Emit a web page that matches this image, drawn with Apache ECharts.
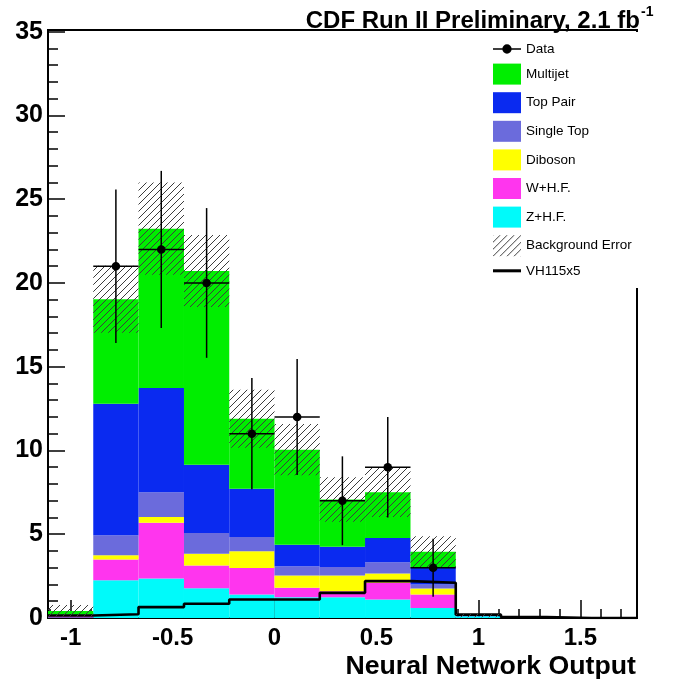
<!DOCTYPE html>
<html>
<head>
<meta charset="utf-8">
<script src="https://cdn.jsdelivr.net/npm/echarts@6/dist/echarts.min.js"></script>
<style>
  html, body { margin: 0; padding: 0; background: #fff; }
  #chart { width: 673px; height: 685px; }
</style>
</head>
<body>
<div id="chart"></div>
<script>
// Neural network output histogram: 13 bins
const binEdges = [-1.111, -0.889, -0.667, -0.444, -0.222, 0, 0.222, 0.444, 0.667, 0.889, 1.111, 1.333, 1.556, 1.778];

// Background components, listed bottom of stack first
const zhf      = [0.03, 2.25, 2.36, 1.78, 1.40, 1.24, 1.24, 1.10, 0.60, 0.10, 0, 0, 0];
const whf      = [0.15, 1.24, 3.32, 1.35, 1.59, 0.56, 0.36, 1.00, 0.80, 0, 0, 0, 0];
const diboson  = [0, 0.26, 0.35, 0.70, 0.99, 0.73, 0.93, 0.55, 0.36, 0, 0, 0, 0];
const singleTop= [0, 1.19, 1.47, 1.25, 0.86, 0.56, 0.52, 0.68, 0.24, 0, 0, 0, 0];
const topPair  = [0.02, 7.85, 6.23, 4.07, 2.88, 1.29, 1.20, 1.45, 1.03, 0.03, 0, 0, 0];
const multijet = [0.22, 6.24, 9.51, 11.57, 4.18, 5.67, 2.82, 2.72, 0.92, 0.02, 0, 0, 0];
const bkgError = [0.35, 2.00, 2.75, 2.15, 1.73, 1.53, 1.33, 1.47, 0.93, 0.10, 0, 0, 0];

// Observed data and its uncertainties
const dataCounts = [0, 21, 22, 20, 11, 12, 7, 9, 3, 0, 0, 0, 0];
const dataErrors = [0, 4.58, 4.69, 4.47, 3.32, 3.46, 2.65, 3.00, 1.73, 0, 0, 0, 0];

// Signal template VH115 scaled by 5
const vh115x5 = [0.15, 0.22, 0.65, 0.85, 1.10, 1.10, 1.50, 2.20, 2.10, 0.20, 0.05, 0, 0];

// Axis ticks
const xMajorTicks = [-1, -0.5, 0, 0.5, 1, 1.5];
const xMinorTicks = [-1.1, -1.0, -0.9, -0.8, -0.7, -0.6, -0.5, -0.4, -0.3, -0.2, -0.1, 0, 0.1, 0.2, 0.3, 0.4, 0.5, 0.6, 0.7, 0.8, 0.9, 1.0, 1.1, 1.2, 1.3, 1.4, 1.5, 1.6, 1.7];
const yMajorTicks = [0, 5, 10, 15, 20, 25, 30, 35];
const yMinorTicks = [0, 1, 2, 3, 4, 5, 6, 7, 8, 9, 10, 11, 12, 13, 14, 15, 16, 17, 18, 19, 20, 21, 22, 23, 24, 25, 26, 27, 28, 29, 30, 31, 32, 33, 34, 35];

const FONT = '"Liberation Sans", Arial, Helvetica, sans-serif';

// Diagonal hatch used for the background uncertainty band
function makeHatch() {
  const s = 7;
  const c = document.createElement('canvas');
  c.width = s; c.height = s;
  const g = c.getContext('2d');
  g.strokeStyle = '#3c3c3c';
  g.lineWidth = 1;
  g.beginPath();
  g.moveTo(0, s); g.lineTo(s, 0);
  g.moveTo(-1, 1); g.lineTo(1, -1);
  g.moveTo(s - 1, s + 1); g.lineTo(s + 1, s - 1);
  g.stroke();
  return c;
}
const hatch = { image: makeHatch(), repeat: 'repeat' };

const components = [
  { name: 'Z+H.F.',     values: zhf,       color: '#00fafa' },
  { name: 'W+H.F.',     values: whf,       color: '#ff35ee' },
  { name: 'Diboson',    values: diboson,   color: '#ffff00' },
  { name: 'Single Top', values: singleTop, color: '#6b6bdc' },
  { name: 'Top Pair',   values: topPair,   color: '#0a2af0' },
  { name: 'Multijet',   values: multijet,  color: '#00ee00' }
];

function rectItem(params, api) {
  const x0 = api.value(0), x1 = api.value(1), y0 = api.value(2), y1 = api.value(3);
  if (!(y1 - y0 > 0)) return;
  const a = api.coord([x0, y1]);
  const b = api.coord([x1, y0]);
  return {
    type: 'rect',
    shape: { x: a[0], y: a[1], width: b[0] - a[0], height: b[1] - a[1] },
    style: { fill: api.visual('color') }
  };
}

const series = [];
const base = binEdges.slice(0, -1).map(() => 0);
components.forEach((comp) => {
  const rows = comp.values.map((v, i) => {
    const row = [binEdges[i], binEdges[i + 1], base[i], base[i] + v];
    base[i] += v;
    return row;
  });
  series.push({
    name: comp.name,
    type: 'custom',
    renderItem: rectItem,
    encode: { x: [0, 1], y: [2, 3] },
    itemStyle: { color: comp.color },
    data: rows,
    z: 2,
    silent: true
  });
});
const total = base.slice();

// Signal step line
const vhPoints = vh115x5.map((v, i) => [binEdges[i], v]);
vhPoints.push([binEdges[binEdges.length - 1], vh115x5[vh115x5.length - 1]]);
series.push({
  name: 'VH115x5',
  type: 'line',
  step: 'end',
  symbol: 'none',
  data: vhPoints,
  lineStyle: { color: '#000', width: 2.6 },
  itemStyle: { color: '#000' },
  z: 3,
  silent: true
});

// Background uncertainty band
series.push({
  name: 'Background Error',
  type: 'custom',
  renderItem: function (params, api) {
    const x0 = api.value(0), x1 = api.value(1), y0 = api.value(2), y1 = api.value(3);
    if (!(y1 - y0 > 0)) return;
    const a = api.coord([x0, y1]);
    const b = api.coord([x1, Math.max(0, y0)]);
    return {
      type: 'rect',
      shape: { x: a[0], y: a[1], width: b[0] - a[0], height: b[1] - a[1] },
      style: { fill: hatch }
    };
  },
  encode: { x: [0, 1], y: [2, 3] },
  itemStyle: { color: hatch },
  data: total.map((t, i) => [binEdges[i], binEdges[i + 1], t - bkgError[i], t + bkgError[i]]),
  z: 4,
  silent: true
});

// Data points with error bars
series.push({
  name: 'Data',
  type: 'custom',
  renderItem: function (params, api) {
    const x0 = api.value(0), x1 = api.value(1), n = api.value(2), e = api.value(3);
    if (!(n > 0)) return;
    const xc = (x0 + x1) / 2;
    const c = api.coord([xc, n]);
    const l = api.coord([x0, n]);
    const r = api.coord([x1, n]);
    const t = api.coord([xc, n + e]);
    const b = api.coord([xc, Math.max(0, n - e)]);
    const st = { stroke: '#000', lineWidth: 1.5 };
    return {
      type: 'group',
      children: [
        { type: 'line', shape: { x1: l[0], y1: c[1], x2: r[0], y2: c[1] }, style: st },
        { type: 'line', shape: { x1: c[0], y1: t[1], x2: c[0], y2: b[1] }, style: st },
        { type: 'circle', shape: { cx: c[0], cy: c[1], r: 4.3 }, style: { fill: '#000' } }
      ]
    };
  },
  encode: { x: [0, 1], y: 2 },
  itemStyle: { color: '#000' },
  data: dataCounts.map((n, i) => [binEdges[i], binEdges[i + 1], n, dataErrors[i]]),
  z: 5,
  silent: true
});

const labelFont = { fontFamily: FONT, fontWeight: 'bold', color: '#000' };

const option = {
  backgroundColor: '#fff',
  animation: false,
  grid: {
    left: 48, right: 36, top: 30, bottom: 67,
    show: true, borderColor: '#000', borderWidth: 2, backgroundColor: 'transparent'
  },
  xAxis: [
    {
      type: 'value', min: binEdges[0], max: binEdges[binEdges.length - 1],
      position: 'bottom',
      axisLine: { show: true, onZero: false, lineStyle: { color: '#000', width: 2 } },
      axisTick: { show: true, inside: true, length: 18, customValues: xMajorTicks, lineStyle: { color: '#000', width: 1.5 } },
      axisLabel: Object.assign({ customValues: xMajorTicks, fontSize: 24, margin: 8 }, labelFont),
      splitLine: { show: false }
    },
    {
      type: 'value', min: binEdges[0], max: binEdges[binEdges.length - 1],
      position: 'bottom',
      axisLine: { show: false, onZero: false },
      axisTick: { show: true, inside: true, length: 9, customValues: xMinorTicks, lineStyle: { color: '#000', width: 1.5 } },
      axisLabel: { show: false },
      splitLine: { show: false }
    }
  ],
  yAxis: [
    {
      type: 'value', min: 0, max: 35.1,
      position: 'left',
      axisLine: { show: true, onZero: false, lineStyle: { color: '#000', width: 2 } },
      axisTick: { show: true, inside: true, length: 17, customValues: yMajorTicks, lineStyle: { color: '#000', width: 1.5 } },
      axisLabel: Object.assign({ customValues: yMajorTicks, fontSize: 25, margin: 5 }, labelFont),
      splitLine: { show: false }
    },
    {
      type: 'value', min: 0, max: 35.1,
      position: 'left',
      axisLine: { show: false, onZero: false },
      axisTick: { show: true, inside: true, length: 10, customValues: yMinorTicks, lineStyle: { color: '#000', width: 1.5 } },
      axisLabel: { show: false },
      splitLine: { show: false }
    }
  ],
  legend: {
    orient: 'vertical',
    left: 493, top: 42,
    padding: 0,
    itemWidth: 28, itemHeight: 21, itemGap: 7.6,
    selectedMode: false,
    textStyle: { fontFamily: FONT, fontSize: 13.5, color: '#000' },
    data: [
      { name: 'Data', icon: 'path://M0,3.3 L24,3.3 L24,4.7 L0,4.7 Z M12,0 A4,4 0 1,1 11.99,0 Z' },
      { name: 'Multijet', icon: 'rect' },
      { name: 'Top Pair', icon: 'rect' },
      { name: 'Single Top', icon: 'rect' },
      { name: 'Diboson', icon: 'rect' },
      { name: 'W+H.F.', icon: 'rect' },
      { name: 'Z+H.F.', icon: 'rect' },
      { name: 'Background Error', icon: 'rect' },
      { name: 'VH115x5', icon: 'path://M0,0 L24,0 L24,2.6 L0,2.6 Z', textStyle: { padding: [6, 0, 0, 0] } }
    ],
    z: 20
  },
  graphic: [
    // legend pad hides the right frame edge behind it
    { type: 'rect', shape: { x: 626, y: 32, width: 20, height: 256 }, style: { fill: '#fff' }, z: 15 },
    {
      type: 'text', x: 640, y: 21, z: 30,
      style: { text: 'CDF Run II Preliminary, 2.1 fb', align: 'right', verticalAlign: 'middle',
               font: 'bold 24px ' + FONT, fill: '#000' }
    },
    {
      type: 'text', x: 641, y: 12, z: 30,
      style: { text: '-1', align: 'left', verticalAlign: 'middle',
               font: 'bold 14px ' + FONT, fill: '#000' }
    },
    {
      type: 'text', x: 636, y: 667, z: 30,
      style: { text: 'Neural Network Output', align: 'right', verticalAlign: 'middle',
               font: 'bold 26.7px ' + FONT, fill: '#000' }
    }
  ],
  series: series
};

const chart = echarts.init(document.getElementById('chart'), null, { renderer: 'canvas' });
chart.setOption(option);
</script>
</body>
</html>
